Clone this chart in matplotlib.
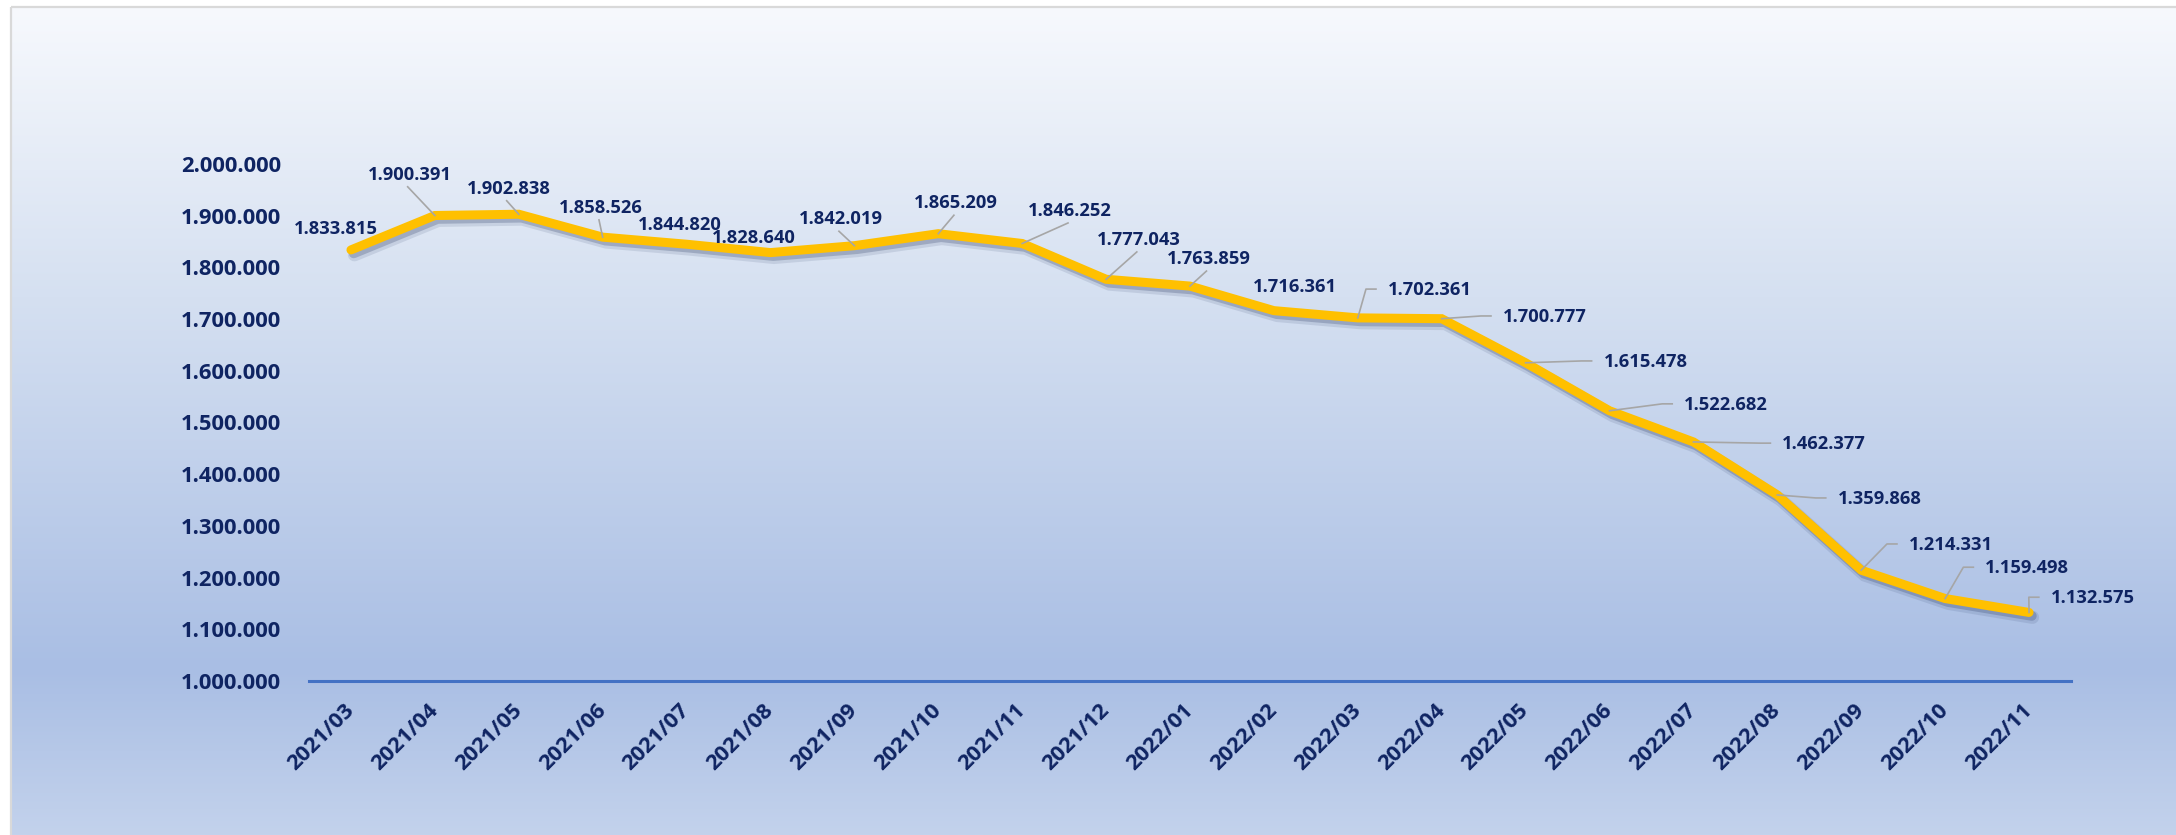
import matplotlib
matplotlib.use("Agg")
import matplotlib.pyplot as plt
import matplotlib.patheffects as pe
from matplotlib.lines import Line2D
import numpy as np

months = ["2021/03", "2021/04", "2021/05", "2021/06", "2021/07", "2021/08", "2021/09",
          "2021/10", "2021/11", "2021/12", "2022/01", "2022/02", "2022/03", "2022/04",
          "2022/05", "2022/06", "2022/07", "2022/08", "2022/09", "2022/10", "2022/11"]
values = [1833815, 1900391, 1902838, 1858526, 1844820, 1828640, 1842019,
          1865209, 1846252, 1777043, 1763859, 1716361, 1702361, 1700777,
          1615478, 1522682, 1462377, 1359868, 1214331, 1159498, 1132575]

# where each data label sits (category units, value units) and its leader style
label_x = [-0.18, 0.70, 1.88, 2.98, 3.92, 4.80, 5.84, 7.21, 8.57, 9.39, 10.22,
           11.25, 12.86, 14.23, 15.43, 16.39, 17.56, 18.22, 19.07, 19.98, 20.76]
label_y = [1878000, 1983000, 1956000, 1919000, 1886000, 1860000, 1897000, 1928000,
           1913000, 1857000, 1820000, 1766000, 1760000, 1708000, 1621000, 1538000,
           1462000, 1356000, 1267000, 1222000, 1164000]
leader = ["none", "below", "below", "below", "none", "none", "below", "below",
          "below", "below", "below", "none", "left", "left", "left", "left",
          "left", "left", "left", "left", "left"]

W, H = 2176, 835
NAVY = "#0f2462"
FONT = ["Open Sans", "DejaVu Sans"]


def fmt(v):
    return f"{v:,}".replace(",", ".")


fig = plt.figure(figsize=(W / 100, H / 100), dpi=100)
fig.patch.set_facecolor("white")

# gradient background of the chart area
bg = fig.add_axes([0, 0, 1, 1], zorder=-10)
bg.set_xlim(0, W)
bg.set_ylim(0, H)
bg.axis("off")
stops_t = [0.0, 0.35, 0.80, 1.0]
stops_c = np.array([[247, 249, 253], [213, 224, 241], [169, 190, 228], [195, 210, 236]]) / 255
t = np.linspace(0, 1, 400)
grad = np.stack([np.interp(t, stops_t, stops_c[:, k]) for k in range(3)], axis=1)[:, None, :]
bg.imshow(grad, extent=[11, W, 0, H - 7], aspect="auto", interpolation="bilinear")
bg.plot([11, 11], [0, H - 7], color="#d9d9d9", lw=1.6, solid_capstyle="butt")
bg.plot([11, W], [H - 7, H - 7], color="#d9d9d9", lw=1.6, solid_capstyle="butt")

ax = fig.add_axes([309 / W, 154 / H, 1762 / W, 517 / H])
ax.set_facecolor("none")
x = np.arange(len(months))

line, = ax.plot(x, values, color="#FFC000", lw=6.5, solid_capstyle="round",
                solid_joinstyle="miter", zorder=3)
line.set_path_effects([
    pe.SimpleLineShadow(offset=(2.5, -3.5), shadow_color="#2b3b63", alpha=0.12, linewidth=9.5),
    pe.SimpleLineShadow(offset=(2, -2.5), shadow_color="#2b3b63", alpha=0.25, linewidth=7),
    pe.Normal(),
])

ax.set_xlim(-0.5, len(months) - 0.5)
ax.set_ylim(1000000, 2000000)
ax.set_yticks(np.arange(1000000, 2000001, 100000))
ax.set_yticklabels([fmt(v) for v in ax.get_yticks().astype(int)])
ax.set_xticks(x)
ax.set_xticklabels(months, rotation=45, ha="right", va="center", rotation_mode="anchor")

for s in ["top", "right", "left"]:
    ax.spines[s].set_visible(False)
ax.spines["bottom"].set_color("#4472C4")
ax.spines["bottom"].set_linewidth(2.2)
ax.tick_params(axis="both", length=0)
ax.tick_params(axis="y", pad=20)
ax.tick_params(axis="x", pad=19)
for lab in ax.get_yticklabels():
    lab.set_fontfamily(FONT)
    lab.set_fontweight("bold")
    lab.set_fontsize(15.8)
    lab.set_color(NAVY)
for lab in ax.get_xticklabels():
    lab.set_fontfamily(FONT)
    lab.set_fontweight("bold")
    lab.set_fontsize(15.8)
    lab.set_color(NAVY)

texts = []
for lx, ly, v in zip(label_x, label_y, values):
    texts.append(ax.text(lx, ly, fmt(v), ha="center", va="center_baseline",
                         family=FONT, fontweight="bold", fontsize=13.2,
                         color=NAVY, zorder=5))

fig.canvas.draw()
renderer = fig.canvas.get_renderer()
inv = ax.transData.inverted()
for i, (txt, kind) in enumerate(zip(texts, leader)):
    if kind == "none":
        continue
    bb = txt.get_window_extent(renderer)
    px, py = ax.transData.transform((x[i], values[i]))
    if kind == "below":
        pts = [(px, py), ((bb.x0 + bb.x1) / 2 - 2, bb.y0 - 3)]
    else:
        cy = (bb.y0 + bb.y1) / 2 + 1
        end = bb.x0 - 12
        pts = [(px, py), (end - 10, cy), (end, cy)]
    d = inv.transform(pts)
    ax.add_line(Line2D(d[:, 0], d[:, 1], color="#a6a6a6", lw=1.2, zorder=4))

fig.savefig("out.png", dpi=100)
